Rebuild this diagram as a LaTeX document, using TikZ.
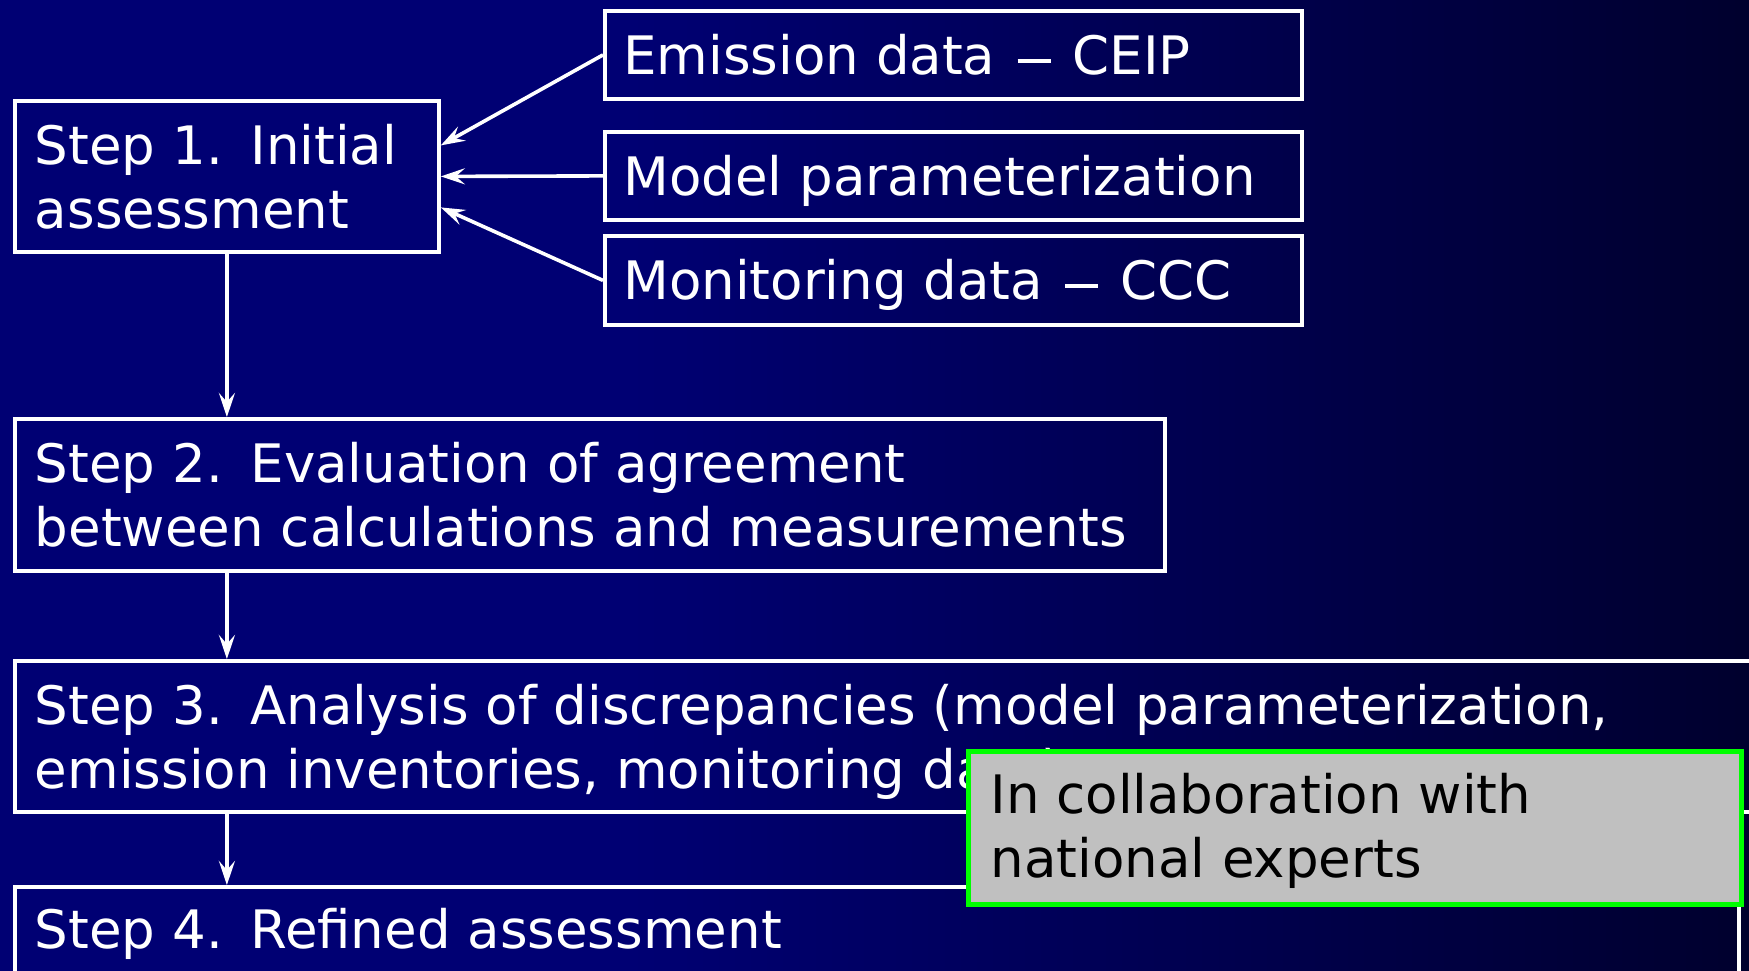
\documentclass[tikz,border=0pt]{standalone}
\usepackage{fontspec}
\setmainfont{DejaVu Sans}
\usetikzlibrary{arrows.meta}
\definecolor{bgnavy}{RGB}{0,0,115}
\definecolor{boxgreen}{RGB}{0,255,0}
\definecolor{boxgray}{RGB}{192,192,192}
\pgfdeclarehorizontalshading{bgshade}{100bp}{color(0bp)=(bgnavy); color(43bp)=(bgnavy); color(96bp)=(black); color(100bp)=(black)}
\newcommand{\wdash}{\hspace{0.42em}\rule[0.2em]{0.62em}{0.08em}\hspace{0.42em}}
\newcommand{\stepgap}{\hspace{0.52em}}
\begin{document}
\begin{tikzpicture}[x=0.5pt,y=-0.5pt,
  box/.style={draw=white, line width=1.9pt, inner sep=0pt, anchor=north west},
  lbl/.style={text=white, inner sep=0pt, anchor=base west, font=\fontsize{26.5pt}{32pt}\selectfont},
  arr/.style={draw=white, line width=1.8pt, -{Stealth[length=12pt,width=8pt,inset=4.5pt]}},
  note/.style={draw=boxgreen, fill=boxgray, line width=2.3pt, inner sep=0pt, anchor=north west}]
\useasboundingbox (0,0) rectangle (1749,970);
\clip (0,0) rectangle (1749,970);
\shade[shading=bgshade] (0,0) rectangle (1749,970);

% Step 1
\node[box, minimum width=212pt, minimum height=75.5pt] (s1) at (13,99) {};
\node[lbl] (s1a) at (34.5,164) {Step 1.\stepgap Initial};
\node[lbl] (s1b) at (34.5,228) {assessment};

% Inputs
\node[box, minimum width=348.5pt, minimum height=44pt] (em) at (603,9) {};
\node[lbl] (emt) at (623,74) {Emission data\wdash CEIP};
\node[box, minimum width=348.5pt, minimum height=44pt] (mp) at (603,130) {};
\node[lbl] (mpt) at (623,195) {Model parameterization};
\node[box, minimum width=348.5pt, minimum height=44.5pt] (md) at (603,234) {};
\node[lbl] (mdt) at (623,299) {Monitoring data\wdash CCC};

% Step 2
\node[box, minimum width=575pt, minimum height=76pt] (s2) at (13,417) {};
\node[lbl] (s2a) at (34.5,482) {Step 2.\stepgap Evaluation of agreement};
\node[lbl] (s2b) at (34.5,546) {between calculations and measurements};

% Step 3
\node[box, minimum width=883.5pt, minimum height=75.5pt] (s3) at (13,659) {};
\node[lbl] (s3a) at (34.5,724) {Step 3.\stepgap Analysis of discrepancies (model parameterization,};
\node[lbl] (s3b) at (34.5,788) {emission inventories, monitoring data)};

% Step 4
\node[box, minimum width=862pt, minimum height=75pt] (s4) at (13,885) {};
\node[lbl] (s4a) at (34.5,948) {Step 4.\stepgap Refined assessment};

% Connectors
\draw[arr] (em.west) -- ([yshift=15.5pt]s1.east);
\draw[arr] (mp.west) -- (s1.east);
\draw[arr] (md.west) -- ([yshift=-15.5pt]s1.east);
\draw[arr] (s1.south) -- (s1.south |- s2.north);
\draw[arr] (s1.south |- s2.south) -- (s1.south |- s3.north);
\draw[arr] (s1.south |- s3.south) -- (s1.south |- s4.north);

% Note
\node[note, minimum width=386.5pt, minimum height=76.5pt] (nt) at (966,749) {};
\node[lbl, text=black] (nta) at (990,813) {In collaboration with};
\node[lbl, text=black] (ntb) at (990,877) {national experts};
\end{tikzpicture}
\end{document}
